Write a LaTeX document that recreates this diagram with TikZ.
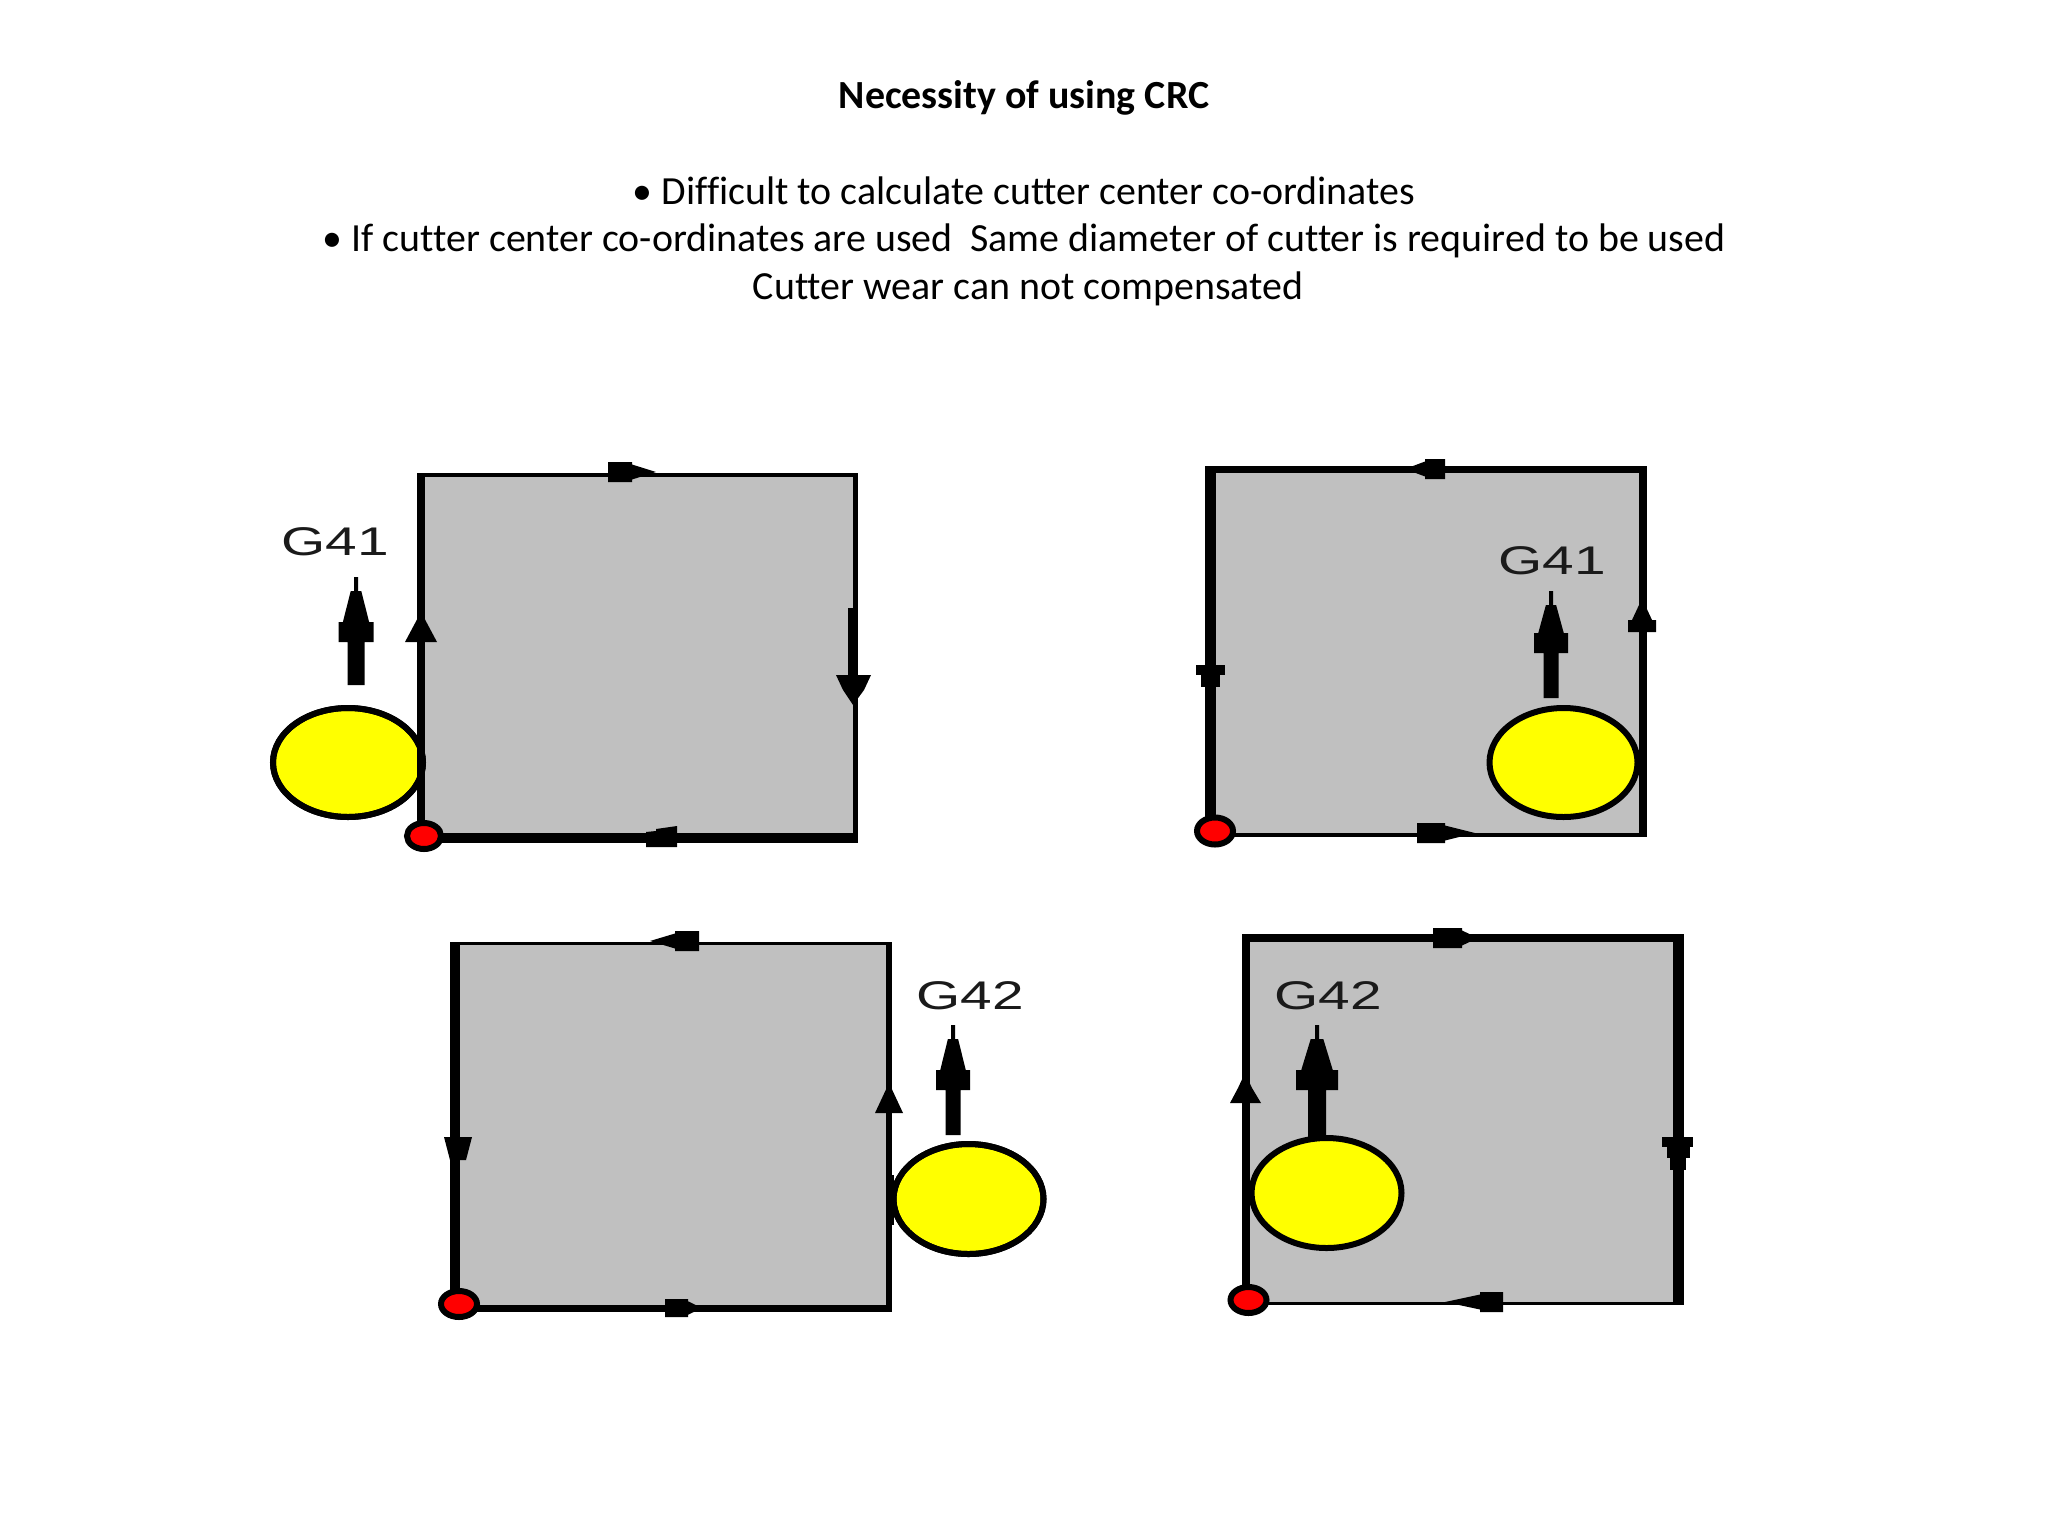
\documentclass[tikz,border=0pt]{standalone}
\usepackage{fontspec}
\setmainfont[Ligatures=NoCommon]{Carlito}
\newfontfamily\labelfont{Liberation Sans}
\definecolor{plate}{HTML}{C0C0C0}
\definecolor{labelink}{HTML}{1A1A1A}
\definecolor{cutterfill}{HTML}{FFFF00}
\definecolor{dotfill}{HTML}{FF0000}
\tikzset{
  ink/.style={fill=black,draw=none},
  plateface/.style={fill=plate,draw=none},
  cutter/.style={draw=black,fill=cutterfill,line width=3pt},
  startdot/.style={draw=black,fill=dotfill,line width=3pt},
  bodytext/.style={font=\fontsize{19.95}{24}\selectfont,inner sep=0pt,anchor=center},
  glabel/.style={font=\labelfont\fontsize{20}{24}\selectfont,text=labelink,inner sep=0pt,anchor=center,xscale=1.42}
}
% plate: outer l,t,r,b ; inner l,t,r,b
\newcommand{\plateBox}[8]{%
  \fill[plateface] (#1,#2) rectangle (#3,#4);
  \fill[ink] (#1,#2) rectangle (#5,#4);
  \fill[ink] (#7,#2) rectangle (#3,#4);
  \fill[ink] (#1,#2) rectangle (#3,#6);
  \fill[ink] (#1,#8) rectangle (#3,#4);
}
% thick pointer going up: centre x, tip y, end y, head half width, stem half width, head base y
\newcommand{\pointerUp}[6]{%
  \fill[ink] ({#1-2},#2) -- ({#1+2},#2) -- ({#1+2},{#2+14}) -- ({#1+0.3*#4},{#2+14}) -- ({#1+0.75*#4},{#6-20})
   -- ({#1+#4},{#6-20}) -- ({#1+#4},#6) -- ({#1+#5},#6) -- ({#1+#5},#3) -- ({#1-#5},#3)
   -- ({#1-#5},#6) -- ({#1-#4},#6) -- ({#1-#4},{#6-20}) -- ({#1-0.75*#4},{#6-20}) -- ({#1-0.3*#4},{#2+14}) -- ({#1-2},{#2+14}) -- cycle;
}
% arrowhead on a vertical edge: centre x, tip y, base y, half width
\newcommand{\headV}[4]{\fill[ink] (#1,#2) -- ({#1+#4},#3) -- ({#1-#4},#3) -- cycle;}
% arrowhead on a horizontal edge with blocky base: tip x, base x, centre y, half height, block x
\newcommand{\headH}[5]{\fill[ink] (#1,#3) -- (#5,{#3-0.75*#4}) -- (#5,{#3-#4}) -- (#2,{#3-#4}) -- (#2,{#3+#4}) -- (#5,{#3+#4}) -- (#5,{#3+0.75*#4}) -- cycle;}
\begin{document}
\begin{tikzpicture}[x=0.5pt,y=-0.5pt]
\useasboundingbox (0,0) rectangle (2048,1536);
\fill[white] (0,0) rectangle (2048,1536);

% texts
\node[bodytext] (title) at (1024,98) {\textbf{Necessity of using CRC}};
\node[bodytext] (lineA) at (1024,191) {• Difficult to calculate cutter center co-ordinates};
\node[bodytext] (lineB) at (1024,241) {• If cutter center co-ordinates are used\ \ Same diameter of cutter is required to be used};
\node[bodytext] (lineC) at (1028,289) {Cutter wear can not compensated};

% top left
\plateBox{417}{473}{858}{843}{425}{477}{853}{833}
\headH{656}{608}{472}{10}{632}
\headV{421}{612}{642}{16}
\fill[ink] (848,608) rectangle (854,680);
\fill[ink] (853,705) -- (864,690) -- (871,675) -- (836,675) -- (843,690) -- cycle;
\fill[ink] (646,832) -- (656,831) -- (656,829) -- (677,826) -- (677,847) -- (646,847) -- cycle;
\pointerUp{356}{577}{685}{17.5}{8.5}{642}
\node[glabel] (gA) at (335,542) {G41};
\path[cutter] (348,762.5) ellipse [x radius=75,y radius=54.5];
\fill[ink] (417,720) rectangle (425,810);
\path[cutter,fill=none] (348,762.5) ellipse [x radius=75,y radius=54.5];
\path[startdot] (424,836) ellipse [x radius=17,y radius=13];

% top right
\plateBox{1205}{466}{1647}{837}{1216}{473}{1639}{833}
\headH{1405}{1445}{469}{10}{1425}
\headH{1475}{1417}{833}{10}{1445}
\fill[ink] (1639,605) -- (1645,605) -- (1652,620) -- (1656,620) -- (1656,632) -- (1628,632) -- (1628,620) -- (1632,620) -- cycle;
\fill[ink] (1196,665) rectangle (1225,675);
\fill[ink] (1201,675) rectangle (1220,687);
\pointerUp{1551}{591}{698}{17}{7.5}{653}
\node[glabel] (gB) at (1552,561) {G41};
\path[cutter] (1563.5,762.5) ellipse [x radius=74,y radius=54.5];
\path[startdot] (1215,831) ellipse [x radius=18,y radius=13.5];

% bottom left
\plateBox{450}{942}{892}{1312}{460}{945}{886}{1305}
\headH{650}{699}{941}{10}{675}
\headH{702}{665}{1308}{9}{688}
\headV{889}{1083}{1113}{14}
\fill[ink] (444,1137) -- (472,1137) -- (466,1160) -- (450,1160) -- cycle;
\pointerUp{953}{1025}{1135}{17}{7.5}{1090}
\node[glabel] (gC) at (970,996) {G42};
\path[cutter] (968.5,1199) ellipse [x radius=75,y radius=55];
\fill[ink] (886,1175) rectangle (894,1225);
\path[cutter,fill=none] (968.5,1199) ellipse [x radius=75,y radius=55];
\path[startdot] (459,1304) ellipse [x radius=18,y radius=13];

% bottom right
\plateBox{1242}{934}{1684}{1305}{1250}{942}{1673}{1302}
\headH{1478}{1433}{938}{10}{1462}
\headH{1445}{1503}{1302}{10}{1480}
\fill[ink] (1245,1073) -- (1252,1088) -- (1261,1103) -- (1230,1103) -- (1238,1088) -- cycle;
\fill[ink] (1662,1137) rectangle (1693,1147);
\fill[ink] (1667,1147) rectangle (1690,1158);
\fill[ink] (1670,1158) rectangle (1686,1170);
\pointerUp{1317}{1025}{1137}{21}{9}{1090}
\node[glabel] (gD) at (1328,996) {G42};
\path[cutter] (1326.5,1193) ellipse [x radius=75,y radius=55];
\path[startdot] (1248.5,1300) ellipse [x radius=18,y radius=13];
\end{tikzpicture}
\end{document}
